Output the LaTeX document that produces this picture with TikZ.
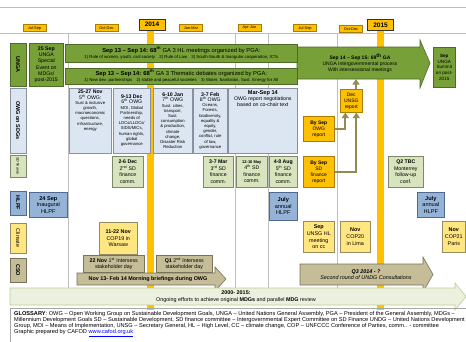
\documentclass[tikz,border=0pt]{standalone}
\usepackage{fontspec}
\setmainfont{Liberation Sans}
\usetikzlibrary{arrows.meta, positioning}

\definecolor{ungagreen}{RGB}{119,160,56}
\definecolor{ungaline}{RGB}{78,106,38}
\definecolor{owgfill}{RGB}{220,230,242}
\definecolor{owgline}{RGB}{135,145,160}
\definecolor{sdfill}{RGB}{215,228,189}
\definecolor{sdline}{RGB}{125,135,105}
\definecolor{hlpffill}{RGB}{149,179,215}
\definecolor{hlpfline}{RGB}{80,105,145}
\definecolor{climfill}{RGB}{255,230,128}
\definecolor{climline}{RGB}{150,140,100}
\definecolor{csofill}{RGB}{196,189,151}
\definecolor{csoline}{RGB}{120,115,90}
\definecolor{gold}{RGB}{255,192,0}
\definecolor{goldline}{RGB}{170,125,0}
\definecolor{feedcol}{RGB}{148,138,84}
\definecolor{mdgfill}{RGB}{235,241,222}
\definecolor{mdgline}{RGB}{185,205,145}

\newcommand{\dtf}{\fontsize{5.2}{6}\selectfont}

\tikzset{
  box/.style={draw, line width=0.6pt, align=center, inner sep=1pt, anchor=north west,
    font=\fontsize{5.2}{6.2}\selectfont},
  ungabox/.style={box, fill=ungagreen, draw=ungaline},
  owgbox/.style={box, fill=owgfill, draw=owgline, font=\fontsize{4.2}{5.2}\selectfont},
  sdbox/.style={box, fill=sdfill, draw=sdline, font=\fontsize{5.2}{6.5}\selectfont},
  hlpfbox/.style={box, fill=hlpffill, draw=hlpfline, font=\fontsize{5.6}{6.5}\selectfont},
  climbox/.style={box, fill=climfill, draw=climline, font=\fontsize{5.4}{6.8}\selectfont},
  csobox/.style={box, fill=csofill, draw=csoline, font=\fontsize{5.3}{6.2}\selectfont},
  repbox/.style={box, fill=gold, draw=goldline, font=\fontsize{5}{6}\selectfont},
  rowlabel/.style={draw, line width=0.6pt, rotate=-90, inner sep=0pt, minimum height=16,
    font=\fontsize{5.5}{6}\selectfont\bfseries},
  period/.style={draw=goldline, fill=gold, inner sep=0pt, minimum width=23, minimum height=7,
    font=\fontsize{3.9}{4}\selectfont},
  yearbox/.style={draw=black!80, line width=0.6pt, fill=gold, inner sep=0pt, minimum width=26,
    minimum height=11, font=\fontsize{6.5}{7}\selectfont\bfseries},
  flatarrow/.style={line width=0.6pt},
  arrowtext/.style={align=center, inner sep=0pt},
  feed/.style={draw=feedcol, line width=2.2pt, -{Triangle[width=7pt,length=5.5pt]}},
  colline/.style={draw=gray!50, line width=0.7pt},
}

\begin{document}
\begin{tikzpicture}[x=1pt, y=-1pt]
\useasboundingbox (0,0) rectangle (466,341);

% Draw grid lines and year bars
\draw[colline] (0,7) -- (466,7);
\draw[colline] (0,33) -- (466,33);
\foreach \xcol in {68,235,268,337}
  \draw[colline] (\xcol,33) -- (\xcol,288);
\fill[gold] (147,31) rectangle (154,310);
\fill[gold] (377,31) rectangle (384,310);

% Draw period labels
\node[period] (p1) at (34.5,28) {Jul-Sep};
\node[period] (p2) at (106.5,28) {Oct-Dec};
\node[yearbox] (y14) at (152,24.5) {2014};
\node[period] (p3) at (191,28) {Jan-Mar};
\node[period] (p4) at (249.5,28) {Apr-Jun};
\node[period] (p5) at (305,28) {Jul-Sep};
\node[period] (p6) at (351,29) {Oct-Dec};
\node[yearbox] (y15) at (380.5,25) {2015};

% Draw row labels
\node[rowlabel, fill=ungagreen, draw=ungaline, minimum width=43] (lunga) at (18,64.5) {UNGA};
\node[rowlabel, fill=owgfill, draw=owgline, minimum width=65] (lowg) at (18,120.5) {OWG on SDGs};
\node[rowlabel, fill=sdfill, draw=sdline, minimum width=22, font=\fontsize{3.6}{4}\selectfont\itshape] (lsd) at (18,166) {SD finance};
\node[rowlabel, fill=hlpffill, draw=hlpfline, minimum width=24] (lhlpf) at (18,203) {HLPF};
\node[rowlabel, fill=climfill, draw=climline, minimum width=30, font=\fontsize{5.4}{6}\selectfont] (lclim) at (18,238) {Climate};
\node[rowlabel, fill=csofill, draw=csoline, minimum width=24] (lcso) at (18,270) {CSO};

% Draw UNGA row
\draw[flatarrow, fill=ungagreen, draw=ungaline] (297,47) -- (420,47) -- (420,40) -- (430,63)
  -- (420,88) -- (420,79) -- (297,79) -- cycle;
\node[arrowtext, font=\fontsize{5}{6.2}\selectfont] (ga69) at (360,63)
  {\textbf{Sep 14 -- Sep 15: 69\textsuperscript{th} GA}\\UNGA intergovernmental process\\With intersessional meetings};
\coordinate (ga69b) at (356,79);
\node[ungabox, minimum width=34, minimum height=43] (ungase) at (29,43)
  {\textbf{25 Sep}\\UNGA\\Special\\Event on\\MDGs/\\post-2015};
\node[ungabox, minimum width=232, minimum height=18] (hlmeet) at (65,44)
  {{\fontsize{5.8}{6.6}\selectfont\textbf{Sep 13 -- Sep 14: 68\textsuperscript{th}} GA 3 HL meetings organized by PGA:}\\
   {\fontsize{4.3}{5}\selectfont 1) Role of women, youth, civil society\quad 2) Rule of Law\quad 3) South-South \& triangular cooperation, ICTs}};
\node[ungabox, minimum width=232, minimum height=16] (thdeb) at (65,68)
  {{\fontsize{5.8}{6.6}\selectfont\textbf{Sep 13 -- Sep 14: 68\textsuperscript{th}} GA 3 Thematic debates organized by PGA:}\\
   {\fontsize{4.3}{5}\selectfont 1) New dev. partnerships\quad 2) stable and peaceful societies\quad 3) Water, Sanitation, Sust. Energy for All}};
\node[ungabox, minimum width=22, minimum height=40, font=\fontsize{4.6}{5.6}\selectfont] (summit) at (433,47)
  {\textbf{Sep}\\UNGA\\Summit\\on post-\\2015};

% Draw OWG row
\node[owgbox, minimum width=42, minimum height=65] (owg5) at (69,88) {};
\node[arrowtext, font=\fontsize{4.2}{5.2}\selectfont, below=2pt of owg5.north] (owg5t)
  {{\dtf\textbf{25-27 Nov}}\\{\dtf 5\textsuperscript{th} OWG:}\\Sust \& inclusive\\growth,\\macroeconomic\\questions,\\infrastructure,\\energy};
\node[owgbox, minimum width=37, minimum height=65] (owg6) at (113,88)
  {{\dtf\textbf{9-13 Dec}}\\{\dtf 6\textsuperscript{th} OWG}\\MOI, Global\\Partnership,\\needs of\\LDCs/LLDCs/\\SIDS/MICs,\\human rights,\\global\\governance};
\node[owgbox, minimum width=39, minimum height=65] (owg7) at (153,88)
  {{\dtf\textbf{6-10 Jan}}\\{\dtf 7\textsuperscript{th} OWG}\\Sust. cities,\\transport,\\Sust.\\consumption\\\& production,\\climate\\change,\\Disaster Risk\\Reduction};
\node[owgbox, minimum width=34, minimum height=65] (owg8) at (193,88)
  {{\dtf\textbf{3-7 Feb}}\\{\dtf 8\textsuperscript{th} OWG}\\Oceans,\\Forests,\\biodiversity,\\equality \&\\equity,\\gender,\\conflict, rule\\of law,\\governance};
\node[owgbox, minimum width=69, minimum height=65] (marsep) at (228,88) {};
\node[arrowtext, font=\fontsize{5.2}{6}\selectfont, below=2pt of marsep.north] (marsept)
  {{\fontsize{5.6}{6.4}\selectfont\textbf{Mar-Sep 14}}\\OWG report negotiations\\based on co-chair text};

% Draw reports feeding the 69th GA
\node[repbox, minimum width=22, minimum height=23] (decrep) at (340,89) {Dec\\UNSG\\report};
\node[repbox, minimum width=31, minimum height=25] (owgrep) at (303,116) {\textbf{By Sep}\\OWG\\report};
\node[repbox, minimum width=31, minimum height=31] (sdrep) at (303,156) {\textbf{By Sep}\\SD\\finance\\report};
\draw[feed] (owgrep.east) -| ([xshift=-6pt]decrep.south);
\draw[feed] (sdrep.east) -| ([xshift=5pt]decrep.south);
\draw[feed] (decrep.north -| ga69b) -- (ga69b);

% Draw SD finance row
\node[sdbox, minimum width=31, minimum height=31] (sd2) at (112,156) {\textbf{2-6 Dec}\\2\textsuperscript{nd} SD\\finance\\comm.};
\node[sdbox, minimum width=30, minimum height=31] (sd3) at (203,156) {\textbf{3-7 Mar}\\3\textsuperscript{rd} SD\\finance\\comm.};
\node[sdbox, minimum width=31, minimum height=31] (sd4) at (236,156) {{\fontsize{4}{6.5}\selectfont\textbf{12-16 May}}\\4\textsuperscript{th} SD\\finance\\comm.};
\node[sdbox, minimum width=28, minimum height=31] (sd5) at (269,156) {\textbf{4-8 Aug}\\5\textsuperscript{th} SD\\finance\\comm.};
\node[sdbox, minimum width=35, minimum height=31] (monterrey) at (388,156) {\textbf{Q2 TBC}\\Monterrey\\follow-up\\conf.};

% Draw HLPF row
\node[hlpfbox, minimum width=38, minimum height=25] (hlpf13) at (29,192) {\textbf{24 Sep}\\Inaugural\\HLPF};
\node[hlpfbox, minimum width=28, minimum height=28] (hlpf14) at (269,192) {\textbf{July}\\annual\\HLPF};
\node[hlpfbox, minimum width=27, minimum height=25] (hlpf15) at (417,192) {\textbf{July}\\annual\\HLPF};

% Draw climate row
\node[climbox, minimum width=38, minimum height=32] (cop19) at (99,222) {\textbf{11-22 Nov}\\COP19 in\\Warsaw};
\node[climbox, minimum width=31, minimum height=31] (unsghl) at (303,221) {\textbf{Sep}\\UNSG HL\\meeting\\on cc};
\node[climbox, minimum width=30, minimum height=31] (cop20) at (340,221) {\textbf{Nov}\\COP20\\in Lima};
\node[climbox, minimum width=23, minimum height=31] (cop21) at (442,221) {\textbf{Nov}\\COP21\\Paris};

% Draw CSO row
\node[csobox, minimum width=61, minimum height=17] (inter1) at (83,255) {\textbf{22 Nov} 1\textsuperscript{st} Intersess\\stakeholder day};
\node[csobox, minimum width=56, minimum height=17] (inter2) at (156,255) {\textbf{Q1} 2\textsuperscript{nd} Intersess\\stakeholder day};
\draw[flatarrow, fill=csofill, draw=csoline] (77,273) -- (215,273) -- (215,267) -- (226,279)
  -- (215,291) -- (215,285) -- (77,285) -- cycle;
\node[arrowtext, font=\fontsize{5.4}{6}\selectfont\bfseries] (brief) at (148,279) {Nov 13- Feb 14 Morning briefings during OWG};
\draw[flatarrow, fill=csofill, draw=csoline] (300,264) -- (423,264) -- (423,257) -- (433,274.5)
  -- (423,292) -- (423,285) -- (300,285) -- cycle;
\node[arrowtext, font=\fontsize{5.4}{6.4}\selectfont\itshape] (undg) at (366,274.5) {\textbf{Q3 2014 - ?}\\Second round of UNDG Consultations};

% Draw MDG arrow and glossary
\draw[flatarrow, fill=mdgfill, draw=mdgline] (10,288) -- (455,288) -- (455,283) -- (466,296.5)
  -- (455,310) -- (455,305) -- (10,305) -- cycle;
\node[arrowtext, font=\fontsize{5.4}{6.4}\selectfont] (mdg) at (236,296.5)
  {\textbf{2000- 2015:}\\Ongoing efforts to achieve original \textbf{MDGs} and parallel \textbf{MDG} review};
\draw[gray!70, line width=0.6pt] (10,308) rectangle (470,345);
\node[anchor=north west, align=left, inner sep=0pt, font=\fontsize{5.65}{6.2}\selectfont] (gloss) at (14,311)
  {\textbf{GLOSSARY}: OWG -- Open Working Group on Sustainable Development Goals, UNGA -- United Nations General Assembly, PGA -- President of the General Assembly, MDGs --\\
   Millennium Development Goals SD -- Sustainable Development, SD finance committee -- Intergovernmental Expert Committee on SD Finance UNDG -- United Nations Development\\
   Group, MOI -- Means of Implementation, UNSG -- Secretary General, HL -- High Level, CC -- climate change, COP -- UNFCCC Conference of Parties, comm.. - committee\\
   Graphic prepared by CAFOD \textcolor{blue}{\underline{www.cafod.org.uk}}};

\end{tikzpicture}
\end{document}
